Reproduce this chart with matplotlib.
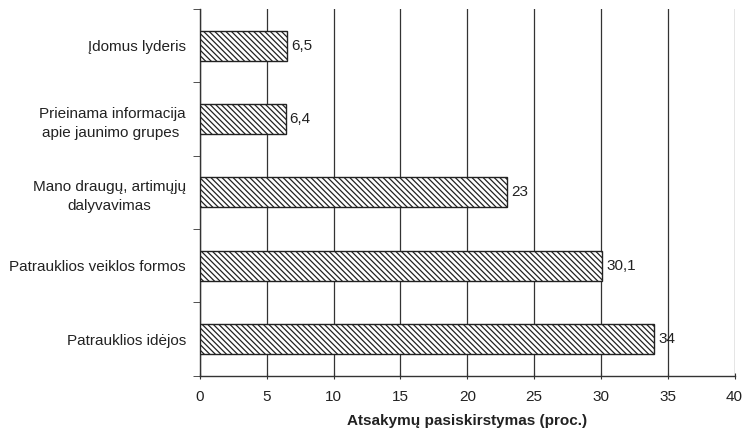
import numpy as np
import matplotlib.pyplot as plt
from matplotlib import rcParams
from matplotlib.ticker import FixedLocator

rcParams['font.family'] = ['Liberation Sans', 'DejaVu Sans']
rcParams['hatch.linewidth'] = 0.9

# Data (bottom to top)
categories = ['Patrauklios idėjos', 'Patrauklios veiklos formos',
              'Mano draugų, artimųjų\ndalyvavimas',
              'Prieinama informacija\napie jaunimo grupes ', 'Įdomus lyderis']
values = [34, 30.1, 23, 6.4, 6.5]
value_labels = ['34', '30,1', '23', '6,4', '6,5']
xticks = [0, 5, 10, 15, 20, 25, 30, 35, 40]

fig = plt.figure(figsize=(7.42, 4.32), dpi=100)
ax = fig.add_axes([0.2695, 0.130, 0.7205, 0.849])

ypos = np.arange(len(categories))
ax.barh(ypos, values, height=0.41, color='white', edgecolor='#222222',
        hatch='\\' * 6, linewidth=1.0, zorder=3)

for y, v, lab in zip(ypos, values, value_labels):
    ax.text(v + 0.3, y, lab, va='center', ha='left', fontsize=11, color='#222222')

ax.set_xlim(0, 40)
ax.set_ylim(-0.5, len(categories) - 0.5)
ax.set_xticks(xticks)
ax.set_xticklabels([str(t) for t in xticks], fontsize=11, color='#222222')
ax.set_yticks(ypos)
ax.set_yticklabels(categories, fontsize=11, color='#222222', ha='right',
                   multialignment='center', linespacing=1.5)
ax.tick_params(axis='y', which='major', length=0, pad=10)
ax.yaxis.set_minor_locator(FixedLocator(np.arange(-0.5, len(categories), 1.0)))
ax.tick_params(axis='y', which='minor', length=5, direction='out', color='#333333')
ax.tick_params(axis='x', which='major', length=5, direction='inout', color='#333333', pad=8)

ax.xaxis.grid(True, color='#333333', linewidth=0.9, zorder=0)
ax.set_axisbelow(True)
for s in ['top', 'right']:
    ax.spines[s].set_visible(False)
for s in ['left', 'bottom']:
    ax.spines[s].set_color('#333333')
    ax.spines[s].set_linewidth(1.0)

ax.set_xlabel('Atsakymų pasiskirstymas (proc.)', fontsize=11, fontweight='bold',
              labelpad=7, color='#222222')

fig.savefig('out.png', dpi=100)
